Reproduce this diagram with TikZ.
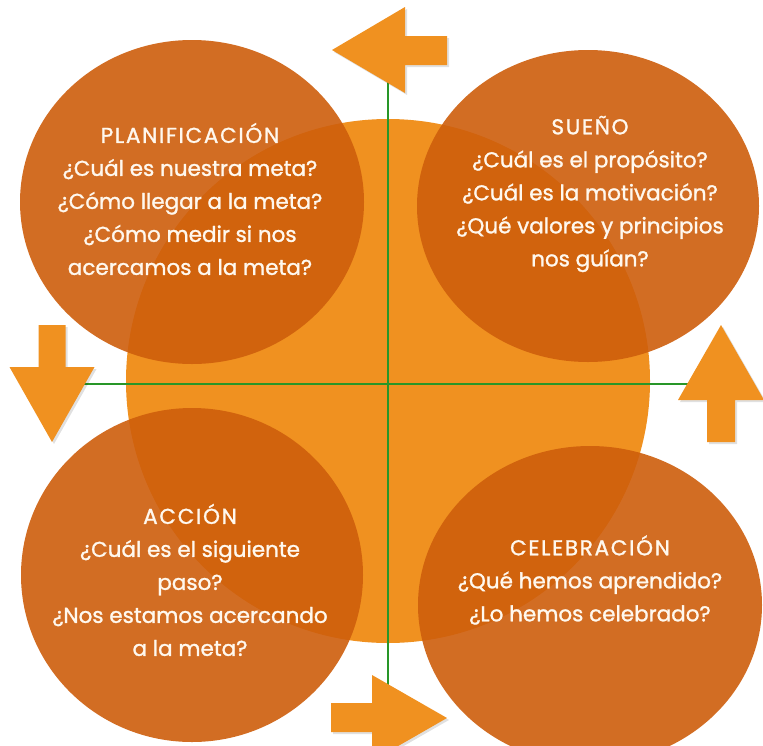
\documentclass[tikz,border=0pt]{standalone}
\usepackage{fontspec}
\setmainfont{Poppins}
\newfontfamily\medfont{Poppins}[BoldFont=Poppins, BoldFeatures={FakeBold=1.3}]
\newcommand{\ttl}[1]{{\addfontfeature{LetterSpace=8}#1}}
\usetikzlibrary{shapes.geometric}
\definecolor{bigor}{RGB}{240,145,32}
\definecolor{darkor}{RGB}{206,94,12}
\definecolor{txt}{RGB}{255,248,238}
\definecolor{gline}{RGB}{40,150,40}
\begin{document}
\begin{tikzpicture}[x=1pt,y=-1pt,
  blob/.style={ellipse, fill=darkor, fill opacity=0.9, draw=none, inner sep=0pt},
  lbl/.style={text=txt, align=center, inner sep=0pt, font=\medfont\bfseries\fontsize{21.5}{33}\selectfont},
  arr/.style={fill=bigor},
  arrshadow/.style={fill=black, opacity=0.12},
  axis/.style={draw=gline, line width=1.1pt}]
\fill[white] (0,0) rectangle (763,745);
\useasboundingbox (0,0) rectangle (763,745);
% central circle
\node[circle, fill=bigor, minimum size=524pt, inner sep=0pt] (core) at (388,381) {};
% axes
\coordinate (vt) at (388,50);
\coordinate (vb) at (388,718);
\coordinate (hl) at (52,384);
\coordinate (hr) at (721,384);
\draw[axis] (vt) -- (vb);
\draw[axis] (hl) -- (hr);
% four circles
\node[blob, minimum width=344pt, minimum height=324pt] (plan) at (192,202) {};
\node[blob, minimum width=342pt, minimum height=312pt] (sueno) at (588,206) {};
\node[blob, minimum width=342pt, minimum height=334pt] (accion) at (192,575) {};
\node[blob, minimum width=344pt, minimum height=318pt] (celeb) at (590,605) {};
% texts
\node[lbl] (tplan) at (190,199) {\ttl{PLANIFICACIÓN}\\¿Cuál es nuestra meta?\\¿Cómo llegar a la meta?\\¿Cómo medir si nos\\acercamos a la meta?};
\node[lbl] (tsueno) at (590,194) {\ttl{SUEÑO}\\¿Cuál es el propósito?\\¿Cuál es la motivación?\\¿Qué valores y principios\\nos guían?};
\node[lbl] (taccion) at (190,580) {\ttl{ACCIÓN}\\¿Cuál es el siguiente\\paso?\\¿Nos estamos acercando\\a la meta?};
\node[lbl] (tceleb) at (590,580) {\ttl{CELEBRACIÓN}\\¿Qué hemos aprendido?\\¿Lo hemos celebrado?};
% arrows (shadows)
\begin{scope}[shift={(2,2)}]
\fill[arrshadow] (332,50) -- (405,7) -- (405,36) -- (447,36) -- (447,65) -- (405,65) -- (405,93) -- cycle;
\fill[arrshadow] (52,442) -- (9.5,367) -- (38.5,367) -- (38.5,325) -- (65.5,325) -- (65.5,367) -- (94.5,367) -- cycle;
\fill[arrshadow] (721,325) -- (678,400) -- (707,400) -- (707,442) -- (735,442) -- (735,400) -- (764,400) -- cycle;
\fill[arrshadow] (447,718) -- (372,675) -- (372,703) -- (331,703) -- (331,732) -- (372,732) -- (372,761) -- cycle;
\end{scope}
% arrows
\fill[arr] (332,50) -- (405,7) -- (405,36) -- (447,36) -- (447,65) -- (405,65) -- (405,93) -- cycle;
\fill[arr] (52,442) -- (9.5,367) -- (38.5,367) -- (38.5,325) -- (65.5,325) -- (65.5,367) -- (94.5,367) -- cycle;
\fill[arr] (721,325) -- (678,400) -- (707,400) -- (707,442) -- (735,442) -- (735,400) -- (764,400) -- cycle;
\fill[arr] (447,718) -- (372,675) -- (372,703) -- (331,703) -- (331,732) -- (372,732) -- (372,761) -- cycle;
\end{tikzpicture}
\end{document}
